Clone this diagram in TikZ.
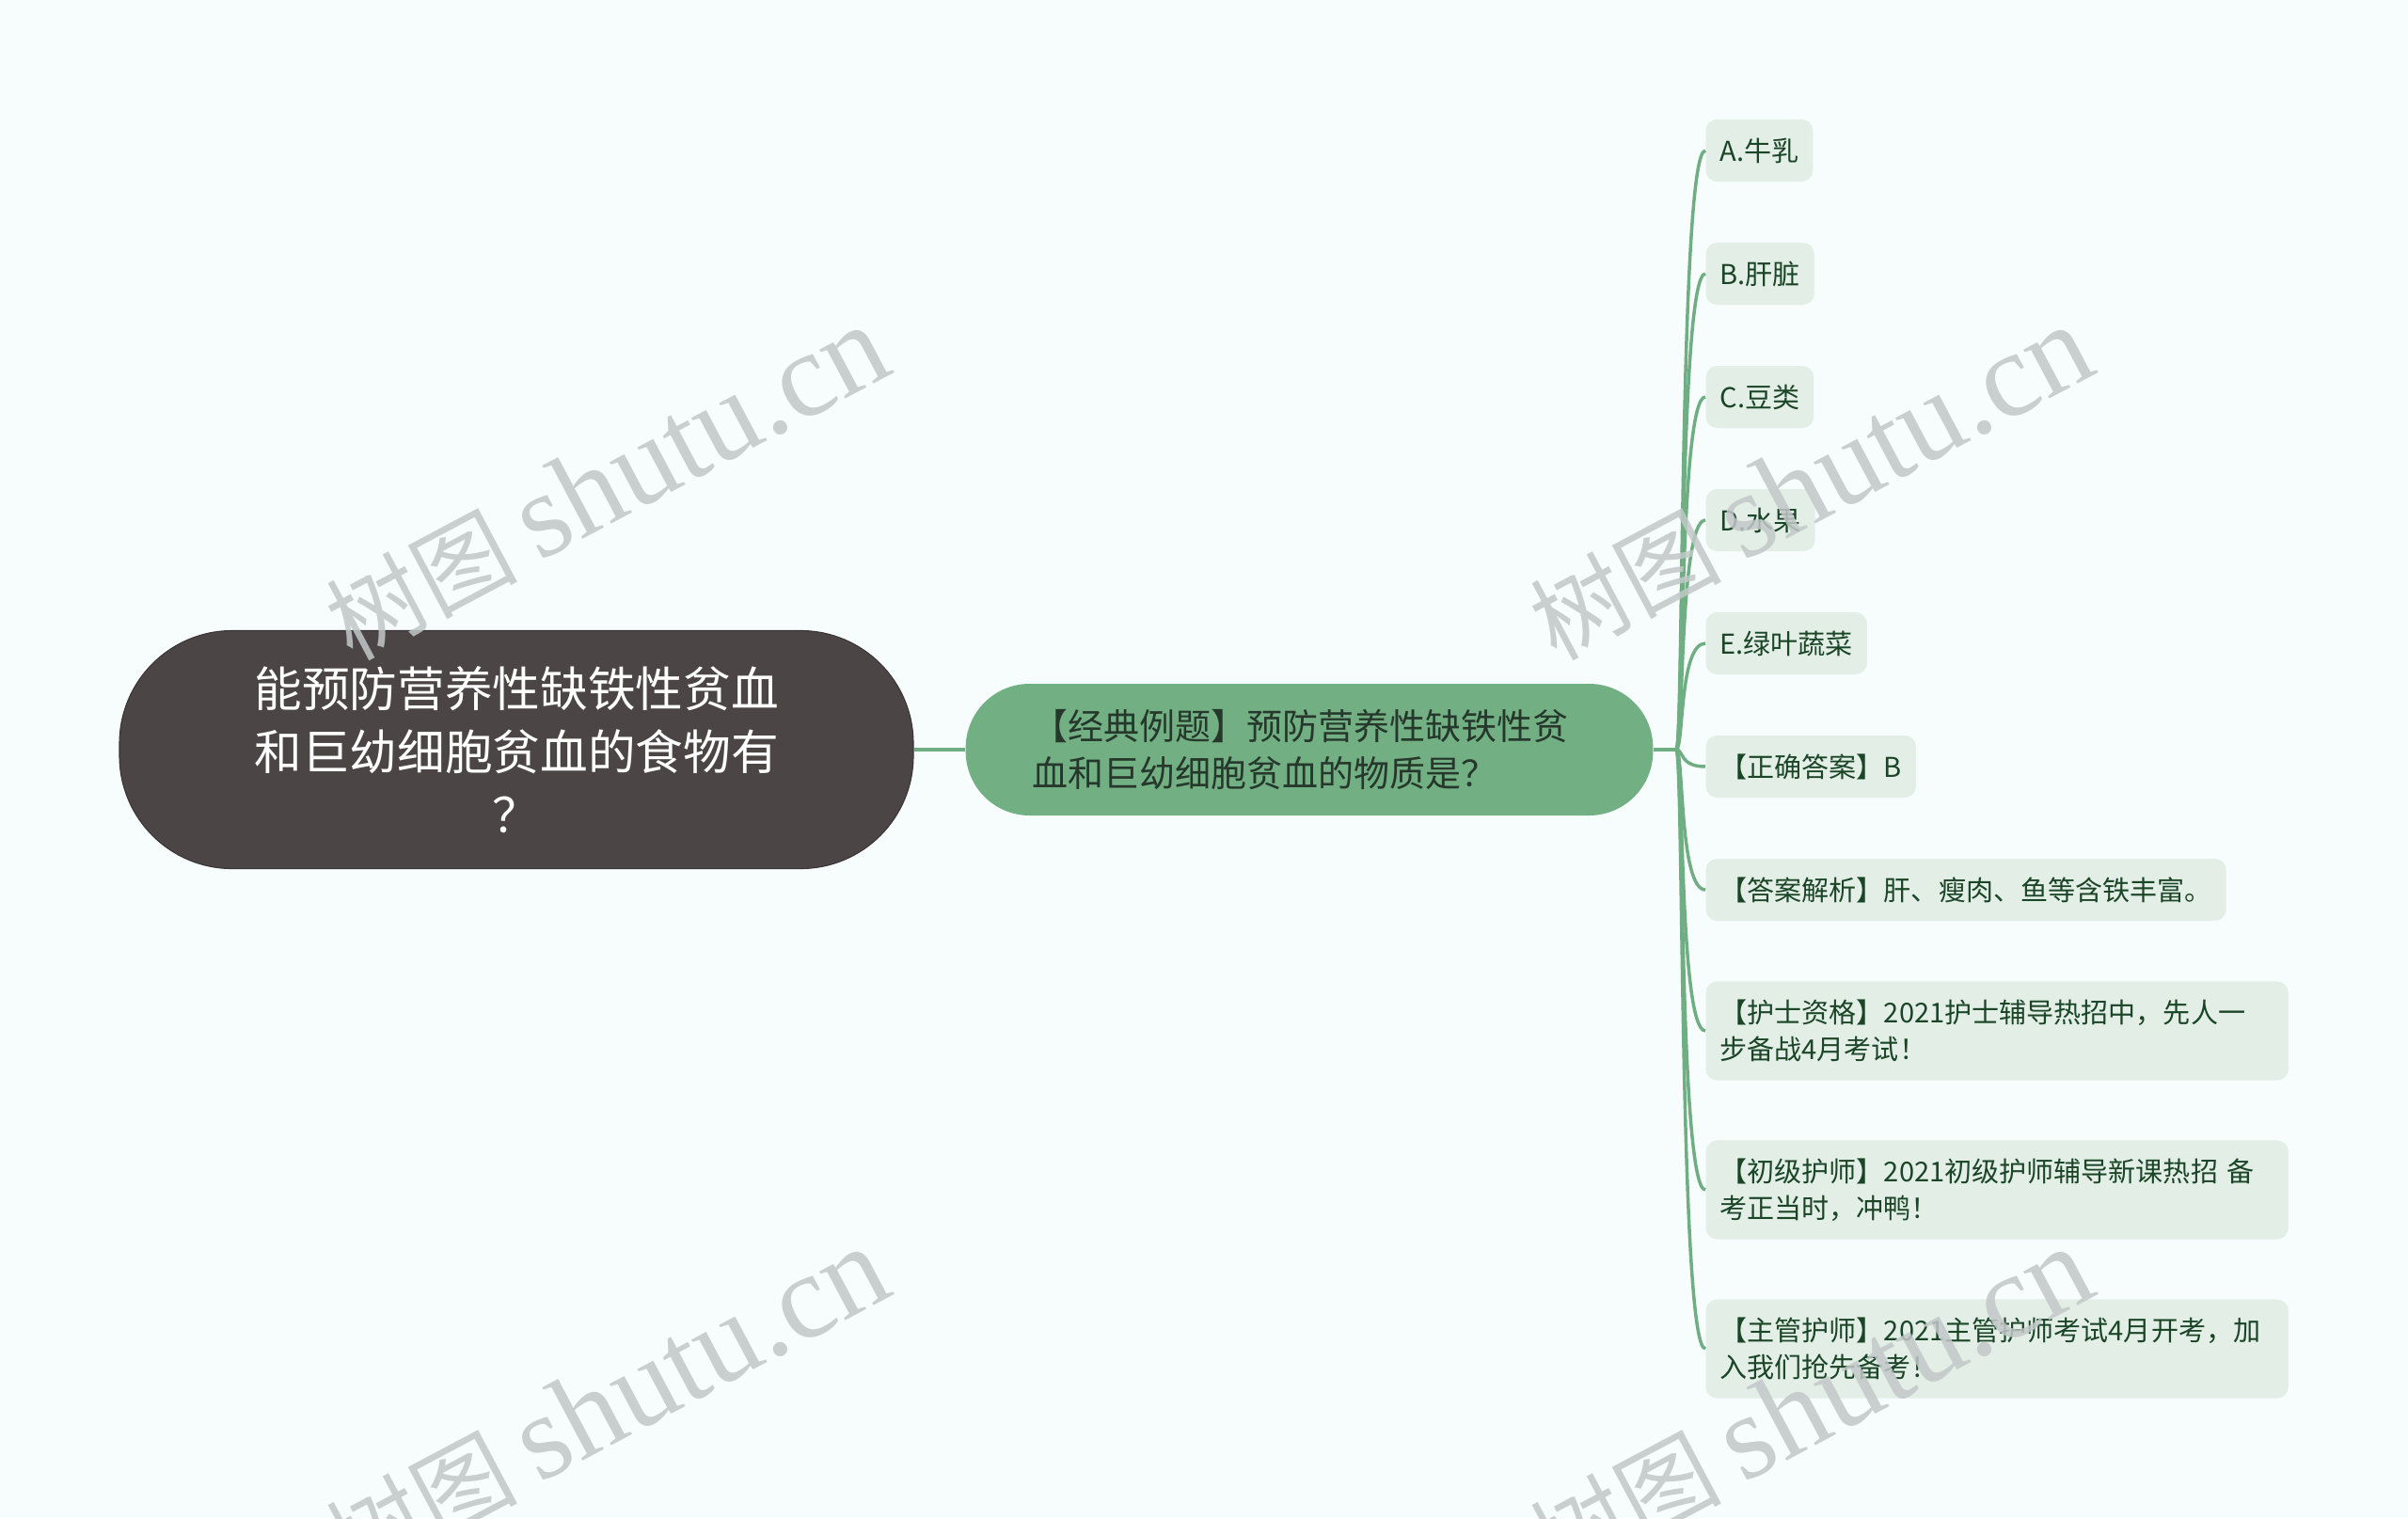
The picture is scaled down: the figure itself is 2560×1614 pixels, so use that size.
\documentclass[tikz,border=0pt]{standalone}
\usepackage{fontspec}
\setmainfont{Noto Sans CJK SC}
\newfontfamily\wmserif{Liberation Serif}
\definecolor{bgcol}{HTML}{F7FCFC}
\definecolor{rootfill}{HTML}{4B4546}
\definecolor{rootdraw}{HTML}{3A3536}
\definecolor{midfill}{HTML}{72B084}
\definecolor{midtext}{HTML}{26372B}
\definecolor{leaffill}{HTML}{E2EEE6}
\definecolor{leaftext}{HTML}{1B4527}
\definecolor{linecol}{HTML}{6FAD83}
\definecolor{wmcol}{HTML}{C2C8C8}
\begin{document}
\begin{tikzpicture}[x=0.375pt,y=-0.375pt,
  rootbox/.style={fill=rootfill, draw=rootdraw, line width=0.4pt, rounded corners=45pt,
    minimum width=316.5pt, minimum height=94.9pt, align=center, text=white,
    font=\fontsize{19pt}{25.1pt}\selectfont, inner sep=0pt},
  midbox/.style={fill=midfill, rounded corners=25.5pt, minimum width=274pt,
    minimum height=52.5pt, align=left, text width=221pt, text=midtext,
    font=\fontsize{14.25pt}{18.4pt}\selectfont, inner sep=0pt},
  leafbox/.style={fill=leaffill, rounded corners=4.5pt, anchor=west, text=leaftext,
    font=\fontsize{10.9pt}{14.6pt}\selectfont, inner xsep=5.6pt, inner ysep=0pt,
    minimum height=24.75pt},
  leafwide/.style={leafbox, align=left, text width=221pt, minimum height=39.4pt},
  conn/.style={draw=linecol, line width=1.3pt},
  wm/.style={text=wmcol, opacity=0.85, font=\fontsize{38pt}{38pt}\selectfont, rotate=28}]
\fill[bgcol] (0,0) rectangle (2560,1614);
\useasboundingbox (0,0) rectangle (2560,1614);

\node[rootbox] (root) at (549,797) {能预防营养性缺铁性贫血\\和巨幼细胞贫血的食物有\\？};
\node[midbox] (mid) at (1392,797) {【经典例题】预防营养性缺铁性贫\\血和巨幼细胞贫血的物质是？};

\node[leafbox] (a) at (1813,160) {A.牛乳};
\node[leafbox] (b) at (1813,291) {B.肝脏};
\node[leafbox] (c) at (1813,422) {C.豆类};
\node[leafbox] (d) at (1813,553) {D.水果};
\node[leafbox] (e) at (1813,684) {E.绿叶蔬菜};
\node[leafbox] (f) at (1813,815) {【正确答案】B};
\node[leafbox] (g) at (1813,946) {【答案解析】肝、瘦肉、鱼等含铁丰富。};
\node[leafwide] (h) at (1813,1096) {【护士资格】2021护士辅导热招中，先人一\\步备战4月考试！};
\node[leafwide] (i) at (1813,1265) {【初级护师】2021初级护师辅导新课热招 备\\考正当时，冲鸭！};
\node[leafwide] (j) at (1813,1434) {【主管护师】2021主管护师考试4月开考，加\\入我们抢先备考！};

\coordinate (J) at (1782,797);
\draw[conn] (root.east) -- (mid.west);
\draw[conn] (mid.east) -- (J);
\foreach \n in {a,b,c,d,e,f,g,h,i,j}{
  \draw[conn] (J) .. controls +(8,0) and +(-28,0) .. (\n.west);
}

\node[wm] (wm1) at (645,514) {树图 {\wmserif\fontsize{48pt}{48pt}\selectfont shutu.cn}};
\node[wm] (wm2) at (1925,514) {树图 {\wmserif\fontsize{48pt}{48pt}\selectfont shutu.cn}};
\node[wm] (wm3) at (645,1494) {树图 {\wmserif\fontsize{48pt}{48pt}\selectfont shutu.cn}};
\node[wm] (wm4) at (1925,1494) {树图 {\wmserif\fontsize{48pt}{48pt}\selectfont shutu.cn}};
\end{tikzpicture}
\end{document}
